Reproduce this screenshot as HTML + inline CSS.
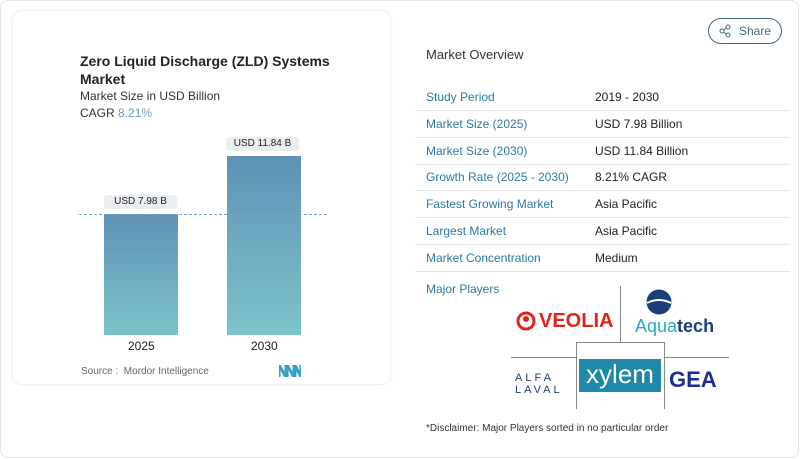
<!DOCTYPE html>
<html><head><meta charset="utf-8"><style>
*{margin:0;padding:0;box-sizing:border-box}
body{width:800px;height:459px;background:#fff;font-family:"Liberation Sans",sans-serif;position:relative;overflow:hidden}
.outer{position:absolute;left:0;top:0;width:799px;height:458px;border:1px solid #e4e6e8;border-radius:8px}
.card{position:absolute;left:12px;top:10px;width:379px;height:375px;border:1px solid #eef0f2;border-radius:10px;box-shadow:0 0 6px rgba(0,0,0,0.04)}
.a{position:absolute;white-space:nowrap}
.bar{position:absolute;background:linear-gradient(#5f92b6,#7cc3c9)}
.pill{position:absolute;background:#e9eef0;border-radius:3px;font-size:10px;color:#222;text-align:center;line-height:14px}
.row{position:absolute;left:415px;width:375px;height:27px;border-bottom:1px solid #e3e5e7;font-size:12px;line-height:26px}
.row .k{position:absolute;left:11px;color:#2a7aa6}
.row .v{position:absolute;left:180px;color:#222}
</style></head><body>
<div class="outer"></div>
<div class="card"></div>
<div class="a" style="left:80px;top:52px;font-size:14px;font-weight:bold;color:#222;line-height:18px">Zero Liquid Discharge (ZLD) Systems<br>Market</div>
<div class="a" style="left:80px;top:89px;font-size:12px;color:#333">Market Size in USD Billion</div>
<div class="a" style="left:80px;top:106px;font-size:12px;color:#333">CAGR <span style="color:#6a9bc0">8.21%</span></div>
<div class="bar" style="left:104px;top:214px;width:74px;height:121px"></div>
<div class="bar" style="left:227px;top:156px;width:74px;height:179px"></div>
<div class="a" style="left:79px;top:214px;width:248px;border-top:1px dashed #7ea3bf"></div>
<div class="pill" style="left:104px;top:195px;width:73px">USD 7.98 B</div>
<div class="pill" style="left:226px;top:137px;width:73px">USD 11.84 B</div>
<div class="a" style="left:128px;top:339px;font-size:12px;color:#222">2025</div>
<div class="a" style="left:251px;top:339px;font-size:12px;color:#222">2030</div>
<div class="a" style="left:81px;top:366px;font-size:10px;color:#666">Source :&nbsp; Mordor Intelligence</div>
<svg class="a" style="left:279px;top:365px" width="22" height="12"><path d="M0 12V0L7 12V0M8 12V0L15 12V0M16 12V0L22 12V0" stroke="#3aa0c0" stroke-width="3" fill="none"/></svg>

<div class="a" style="left:708px;top:18px;width:74px;height:26px;border:1px solid #3f6b80;border-radius:13px;font-size:12px;color:#3f6b80;line-height:24px;padding-left:30px">Share</div>
<svg class="a" style="left:719px;top:24px" width="12" height="14"><circle cx="9" cy="3" r="2" fill="none" stroke="#3f6b80"/><circle cx="3" cy="7" r="2" fill="none" stroke="#3f6b80"/><circle cx="9" cy="11" r="2" fill="none" stroke="#3f6b80"/><path d="M4.5 6L7.5 4M4.5 8L7.5 10" stroke="#3f6b80"/></svg>
<div class="a" style="left:426px;top:47px;font-size:13px;color:#333">Market Overview</div>
<div class="row" style="top:84px"><span class="k">Study Period</span><span class="v">2019 - 2030</span></div>
<div class="row" style="top:111px"><span class="k">Market Size (2025)</span><span class="v">USD 7.98 Billion</span></div>
<div class="row" style="top:138px"><span class="k">Market Size (2030)</span><span class="v">USD 11.84 Billion</span></div>
<div class="row" style="top:164px"><span class="k">Growth Rate (2025 - 2030)</span><span class="v">8.21% CAGR</span></div>
<div class="row" style="top:191px"><span class="k">Fastest Growing Market</span><span class="v">Asia Pacific</span></div>
<div class="row" style="top:218px"><span class="k">Largest Market</span><span class="v">Asia Pacific</span></div>
<div class="row" style="top:245px"><span class="k">Market Concentration</span><span class="v">Medium</span></div>
<div class="a" style="left:426px;top:282px;font-size:12px;color:#2a7aa6">Major Players</div>
<div class="a" style="left:620px;top:286px;width:1px;height:56px;background:#888"></div>
<div class="a" style="left:511px;top:357px;width:65px;height:1px;background:#888"></div>
<div class="a" style="left:664px;top:357px;width:65px;height:1px;background:#888"></div>
<div class="a" style="left:576px;top:342px;width:89px;height:67px;border:1px solid #888;border-bottom:none"></div>
<div class="a" style="left:579px;top:359px;width:82px;height:33px;background:#1e8aa8;color:#fff;font-size:26px;line-height:30px;text-align:center">xylem</div>
<svg class="a" style="left:516px;top:310px" width="20" height="22"><circle cx="10" cy="11" r="8" fill="none" stroke="#e2231a" stroke-width="3"/><circle cx="10" cy="9" r="3" fill="#e2231a"/></svg>
<div class="a" style="left:539px;top:310px;font-size:20px;font-weight:bold;color:#e2231a;line-height:22px">VEOLIA</div>
<svg class="a" style="left:641px;top:289px" width="36" height="26"><circle cx="18" cy="13" r="12.5" fill="#1b3f7a"/><path d="M6 14Q18 8 30 14" stroke="#fff" stroke-width="2" fill="none"/></svg>
<div class="a" style="left:635px;top:315px;font-size:18px;color:#2aa8c8;line-height:22px">Aqua<b style="color:#1b3f7a">tech</b></div>
<div class="a" style="left:515px;top:372px;font-size:11px;color:#1b3f7a;line-height:12px;letter-spacing:3px">ALFA<br>LAVAL</div>
<div class="a" style="left:669px;top:368px;font-size:22px;font-weight:bold;color:#1a2f8f;line-height:24px">GEA</div>
<div class="a" style="left:426px;top:423px;font-size:10px;color:#333">*Disclaimer: Major Players sorted in no particular order</div>
</body></html>
